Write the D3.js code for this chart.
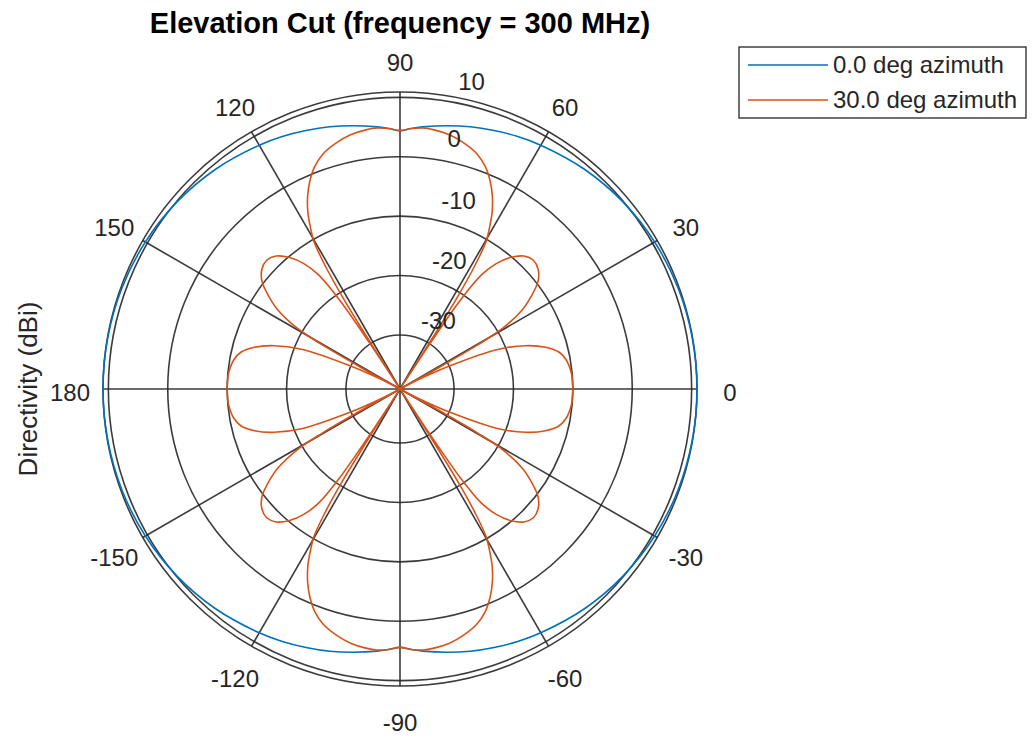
<!DOCTYPE html>
<html>
<head>
<meta charset="utf-8">
<script src="https://d3js.org/d3.v7.min.js"></script>
<style>
  body { margin: 0; background: #fff; }
  text { font-family: "Liberation Sans", Arial, Helvetica, sans-serif; fill: #262626; }
</style>
</head>
<body>
<script>
/* values */
var titleText = "Elevation Cut (frequency = 300 MHz)"
var yLabel = "Directivity (dBi)"
var angleTicks = [0, 30, 60, 90, 120, 150, 180, -150, -120, -90, -60, -30]
var magTicks = [-30, -20, -10, 0, 10]
var magLimits = [-39.1, 10.9]
var magLabelAngles = [60.5, 69, 72.7, 77.8, 76.9]
var seriesNames = ["0.0 deg azimuth", "30.0 deg azimuth"]
var seriesColors = ["#0072BD", "#D95319"]

// 0 deg azimuth cut (elevation angle, dBi)
var az0Angles = [-180, -170, -160, -150, -140, -130, -120, -115, -110, -105, -100, -95, -92.5, -90,
  -87.5, -85, -80, -75, -70, -65, -60, -50, -40, -30, -20, -10,
  0, 10, 20, 30, 40, 50, 60, 65, 70, 75, 80, 85, 87.5, 90,
  92.5, 95, 100, 105, 110, 115, 120, 130, 140, 150, 160, 170]
var az0Dir = [10.9, 10.85, 10.7, 10.4, 9.9, 9.2, 8.3, 7.8, 7.2, 6.6, 5.9, 5.2, 4.8, 4.4,
  4.8, 5.2, 5.9, 6.6, 7.2, 7.8, 8.3, 9.2, 9.9, 10.4, 10.7, 10.85,
  10.9, 10.85, 10.7, 10.4, 9.9, 9.2, 8.3, 7.8, 7.2, 6.6, 5.9, 5.2, 4.8, 4.4,
  4.8, 5.2, 5.9, 6.6, 7.2, 7.8, 8.3, 9.2, 9.9, 10.4, 10.7, 10.85]

// 30 deg azimuth cut (elevation angle, dBi)
var az30Angles = [
  -180, -175, -170, -167, -164, -161, -158, -155, -153.2, -152, -151.2, -150.4, -149.4, -147, -144.5,
  -142, -139, -136, -133, -130, -127.5, -125.5, -124.2, -123.5, -123, -122.5, -122, -121.2, -120.2,
  -119, -117.5, -115.5, -113.5, -111, -108, -104.5, -101, -97.5, -95, -92.5, -90,
  -87.5, -85, -82.5, -79, -75.5, -72, -69, -66.5, -64.5, -62.5, -61, -59.8, -58.8, -58, -57.5, -57,
  -56.5, -55.8, -54.5, -52.5, -50, -47, -44, -41, -38, -35.5, -33, -30.6, -29.6, -28.8, -28, -26.8,
  -25, -22, -19, -16, -13, -10, -5,
  0, 5, 10, 13, 16, 19, 22, 25, 26.8, 28, 28.8, 29.6, 30.6, 33, 35.5, 38, 41, 44, 47, 50,
  52.5, 54.5, 55.8, 56.5, 57, 57.5, 58, 58.8, 59.8, 61, 62.5, 64.5, 66.5, 69, 72, 75.5, 79, 82.5,
  85, 87.5, 90,
  92.5, 95, 97.5, 101, 104.5, 108, 111, 113.5, 115.5, 117.5, 119, 120.2, 121.2, 122, 122.5, 123,
  123.5, 124.2, 125.5, 127.5, 130, 133, 136, 139, 142, 144.5, 147, 149.4, 150.4, 151.2, 152, 153.2,
  155, 158, 161, 164, 167, 170, 175]
var az30Dir = [
  -10.0, -10.1, -10.7, -11.6, -13.6, -16.7, -21.2, -29.8, -35, -40, -32, -24, -19, -14.5, -11.8,
  -9.6, -8.3, -7.9, -8.5, -10.2, -12.5, -15.5, -21, -30, -40, -30, -21, -14.5, -10.2,
  -8, -5.5, -3.0, -1.0, 1.0, 2.6, 3.7, 4.5, 4.9, 5.0, 4.8, 4.4,
  4.8, 5.0, 4.9, 4.5, 3.7, 2.6, 1.0, -1.0, -3.0, -5.5, -8, -10.2, -14.5, -21, -30, -40,
  -30, -21, -15.5, -12.5, -10.2, -8.5, -7.9, -8.3, -9.6, -11.8, -14.5, -19, -24, -32, -40, -35,
  -29.8, -21.2, -16.7, -13.6, -11.6, -10.7, -10.1,
  -10.0, -10.1, -10.7, -11.6, -13.6, -16.7, -21.2, -29.8, -35, -40, -32, -24, -19, -14.5, -11.8, -9.6, -8.3, -7.9, -8.5, -10.2,
  -12.5, -15.5, -21, -30, -40, -30, -21, -14.5, -10.2, -8, -5.5, -3.0, -1.0, 1.0, 2.6, 3.7, 4.5, 4.9,
  5.0, 4.8, 4.4,
  4.8, 5.0, 4.9, 4.5, 3.7, 2.6, 1.0, -1.0, -3.0, -5.5, -8, -10.2, -14.5, -21, -30, -40,
  -30, -21, -15.5, -12.5, -10.2, -8.5, -7.9, -8.3, -9.6, -11.8, -14.5, -19, -24, -32, -40, -35,
  -29.8, -21.2, -16.7, -13.6, -11.6, -10.7, -10.1]

var width = 1033, height = 744
var cx = 400, cy = 389
var rOuter = 297
var gridColor = "#262626"

var svg = d3.select("body").append("svg")
  .attr("width", width)
  .attr("height", height)

var r = d3.scaleLinear().domain(magLimits).range([0, rOuter]).clamp(true)

function rad(a) { return a * Math.PI / 180 }

var plot = svg.append("g")
  .attr("transform", "translate(" + cx + "," + cy + ")")

/* grid circles, ticks plus the outer limit */
plot.append("g").selectAll("circle")
  .data(magTicks.concat([magLimits[1]]))
  .enter().append("circle")
  .attr("r", function(d) { return r(d) })
  .attr("fill", "none")
  .attr("stroke", gridColor)
  .attr("stroke-opacity", 0.9)
  .attr("stroke-width", 1.6)

/* spokes */
plot.append("g").selectAll("line")
  .data(angleTicks)
  .enter().append("line")
  .attr("x1", 0).attr("y1", 0)
  .attr("x2", function(d) { return rOuter * Math.cos(rad(d)) })
  .attr("y2", function(d) { return -rOuter * Math.sin(rad(d)) })
  .attr("stroke", gridColor)
  .attr("stroke-opacity", 0.9)
  .attr("stroke-width", 1.6)

/* pattern traces */
var radial = d3.lineRadial()
  .angle(function(d) { return rad(90 - d[0]) })
  .radius(function(d) { return r(d[1]) })
  .curve(d3.curveCatmullRomClosed.alpha(0.5))

var series = [d3.zip(az0Angles, az0Dir), d3.zip(az30Angles, az30Dir)]

plot.append("g").selectAll("path")
  .data(series)
  .enter().append("path")
  .attr("d", radial)
  .attr("fill", "none")
  .attr("stroke", function(d, i) { return seriesColors[i] })
  .attr("stroke-width", 1.6)

/* angle labels */
var labelR = 330
plot.append("g").selectAll("text")
  .data(angleTicks)
  .enter().append("text")
  .attr("x", function(d) { return labelR * Math.cos(rad(d)) })
  .attr("y", function(d) { return -labelR * Math.sin(rad(d)) + 4 })
  .attr("dy", "0.35em")
  .attr("text-anchor", "middle")
  .style("font-size", "24px")
  .text(function(d) { return d })

/* magnitude labels */
plot.append("g").selectAll("text")
  .data(magTicks)
  .enter().append("text")
  .attr("x", function(d, i) { return (r(d) + 24) * Math.cos(rad(magLabelAngles[i])) })
  .attr("y", function(d, i) { return -(r(d) + 24) * Math.sin(rad(magLabelAngles[i])) })
  .attr("dy", "0.35em")
  .attr("text-anchor", "middle")
  .style("font-size", "24px")
  .text(function(d) { return d })

/* title and axis label */
svg.append("text")
  .attr("x", cx).attr("y", 33)
  .attr("text-anchor", "middle")
  .style("font-size", "29px")
  .style("font-weight", "bold")
  .style("fill", "#000")
  .text(titleText)

svg.append("text")
  .attr("transform", "translate(37," + cy + ") rotate(-90)")
  .attr("text-anchor", "middle")
  .style("font-size", "26px")
  .text(yLabel)

/* legend */
var legend = svg.append("g").attr("transform", "translate(739,47)")

legend.append("rect")
  .attr("width", 287).attr("height", 71)
  .attr("fill", "#fff")
  .attr("stroke", gridColor)
  .attr("stroke-width", 1.3)

var item = legend.selectAll("g.item")
  .data(seriesNames)
  .enter().append("g")
  .attr("class", "item")
  .attr("transform", function(d, i) { return "translate(0," + (18 + i * 35) + ")" })

item.append("line")
  .attr("x1", 9).attr("x2", 89)
  .attr("stroke", function(d, i) { return seriesColors[i] })
  .attr("stroke-width", 1.6)

item.append("text")
  .attr("x", 94)
  .attr("dy", "0.35em")
  .style("font-size", "24px")
  .text(function(d) { return d })
</script>
</body>
</html>
